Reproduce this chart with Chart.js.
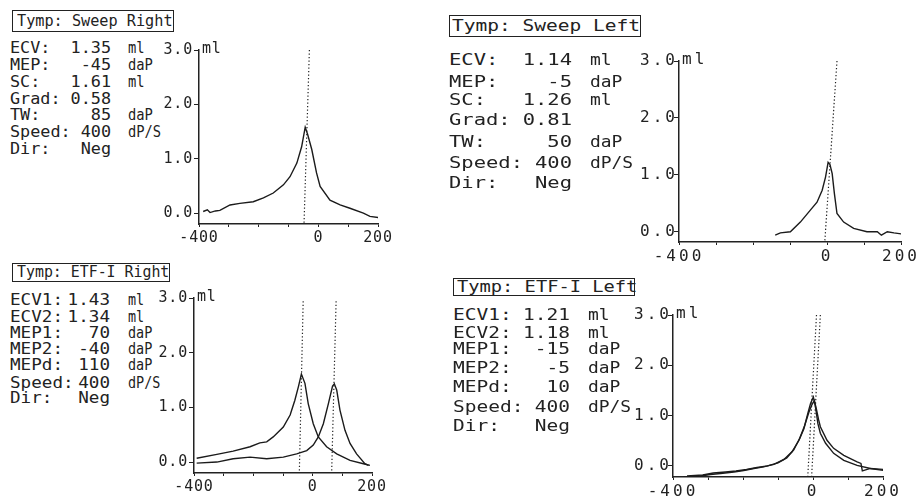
<!DOCTYPE html>
<html>
<head>
<meta charset="utf-8">
<script src="https://cdn.jsdelivr.net/npm/chart.js@4.4.1/dist/chart.umd.min.js"></script>
<style>
  html, body { margin: 0; padding: 0; background: #fff; }
  body { width: 921px; height: 502px; position: relative; overflow: hidden;
         font-family: "DejaVu Sans Mono", monospace; color: #222; }
  .t { position: absolute; font-size: 16px; line-height: 16px; white-space: pre; }
  .box { position: absolute; border: 1.3px solid #222; box-sizing: border-box; }
  canvas { position: absolute; }
</style>
</head>
<body>
<script>
// ---- ejes comunes ----
var yTicks = [0, 1, 2, 3];
var xLabelled = [-400, 0, 200];

// ---- Tymp: Sweep Right ----
var tlNames  = ['ECV:', 'MEP:', 'SC:', 'Grad:', 'TW:', 'Speed:', 'Dir:'];
var tlValues = ['1.35', '-45', '1.61', '0.58', '85', '400', 'Neg'];
var tlUnits  = ['ml', 'daP', 'ml', '', 'daP', 'dP/S', ''];
var tlPressure = [-386, -372, -363, -345, -330, -296, -263, -218, -184, -151, -117, -95, -72, -56, -44, -36, -22, -6, 6, 39, 73, 106, 151, 173, 201];
var tlVolume   = [0.03, 0.06, 0.01, 0.04, 0.05, 0.15, 0.18, 0.21, 0.28, 0.37, 0.52, 0.67, 0.92, 1.22, 1.58, 1.45, 1.17, 0.74, 0.49, 0.24, 0.15, 0.09, 0.0, -0.06, -0.08];
var tlMarkTop = [-30];
var tlMarkBottom = [-48];

// ---- Tymp: Sweep Left ----
var trNames  = ['ECV:', 'MEP:', 'SC:', 'Grad:', 'TW:', 'Speed:', 'Dir:'];
var trValues = ['1.14', '-5', '1.26', '0.81', '50', '400', 'Neg'];
var trUnits  = ['ml', 'daP', 'ml', '', 'daP', 'dP/S', ''];
var trPressure = [-140, -126, -99, -72, -45, -27, -13, -4, 3, 8, 14, 20, 27, 45, 72, 108, 136, 147, 163, 181, 203];
var trVolume   = [-0.06, -0.02, 0.0, 0.17, 0.38, 0.52, 0.73, 0.96, 1.22, 1.18, 1.02, 0.67, 0.32, 0.17, 0.06, 0.0, 0.0, -0.06, 0.0, -0.02, -0.04];
var trMarkTop = [27];
var trMarkBottom = [-6];

// ---- Tymp: ETF-I Right ----
var blNames  = ['ECV1:', 'ECV2:', 'MEP1:', 'MEP2:', 'MEPd:', 'Speed:', 'Dir:'];
var blValues = ['1.43', '1.34', '70', '-40', '110', '400', 'Neg'];
var blUnits  = ['ml', 'ml', 'daP', 'daP', 'daP', 'dP/S', ''];
var blPressure1 = [-391, -323, -268, -211, -178, -155, -133, -99, -76, -60, -48, -38, -26, -15, 2, 19, 47, 81, 126, 171, 193];
var blVolume1   = [0.07, 0.14, 0.2, 0.28, 0.35, 0.37, 0.46, 0.64, 0.86, 1.13, 1.38, 1.61, 1.44, 1.07, 0.7, 0.46, 0.28, 0.15, 0.03, -0.03, -0.06];
var blPressure2 = [-391, -323, -268, -211, -155, -99, -54, -20, 2, 19, 36, 53, 67, 73, 81, 92, 109, 126, 148, 176, 188];
var blVolume2   = [-0.02, 0.0, 0.06, 0.09, 0.06, 0.09, 0.15, 0.21, 0.31, 0.46, 0.7, 1.07, 1.39, 1.43, 1.32, 0.95, 0.58, 0.34, 0.15, -0.03, -0.06];
var blMarkTop = [-32, 79];
var blMarkBottom = [-45, 64];

// ---- Tymp: ETF-I Left ----
var brNames  = ['ECV1:', 'ECV2:', 'MEP1:', 'MEP2:', 'MEPd:', 'Speed:', 'Dir:'];
var brValues = ['1.21', '1.18', '-15', '-5', '10', '400', 'Neg'];
var brUnits  = ['ml', 'ml', 'daP', 'daP', 'daP', 'dP/S', ''];
var brPressure1 = [-369, -321, -293, -264, -226, -198, -169, -141, -112, -83, -60, -40, -26, -15, -7, 1, 7, 14, 21, 36, 59, 88, 126, 164, 202];
var brVolume1   = [-0.22, -0.2, -0.17, -0.15, -0.12, -0.09, -0.05, -0.02, 0.03, 0.13, 0.28, 0.51, 0.74, 1.04, 1.24, 1.37, 1.18, 0.84, 0.65, 0.45, 0.25, 0.11, 0.01, -0.05, -0.09];
var brPressure2 = [-360, -315, -285, -250, -220, -190, -160, -130, -100, -75, -55, -38, -24, -12, -3, 4, 10, 16, 21, 40, 59, 88, 126, 137, 141, 164, 202];
var brVolume2   = [-0.2, -0.18, -0.14, -0.12, -0.1, -0.07, -0.03, 0.0, 0.06, 0.16, 0.32, 0.55, 0.8, 1.06, 1.22, 1.3, 1.12, 0.92, 0.78, 0.51, 0.35, 0.21, 0.08, 0.05, -0.1, -0.05, -0.07];
var brMarkTop = [10, 21];
var brMarkBottom = [-15, -4];

/*******************************************************/
// posiciones de cada panel (px en la hoja)
var paneles = [
  { title: 'Tymp: Sweep Right', box: [11.7, 9.5, 162.6, 22], titleX: 17, titleScale: 0.95,
    names: tlNames, values: tlValues, units: tlUnits,
    rowY: [48.3, 65, 81.7, 99.3, 115, 131.7, 149], labelX: 10, valueRight: 111, unitX: 128.3, tableScale: 1.05, unitScale: 0.86,
    area: { left: 199, right: 378, top: 50, bottom: 224 }, ymin: -0.2, fontSize: 15, ls: 0.8, yPad: 1,
    series: [[tlPressure, tlVolume]], marks: [tlMarkTop, tlMarkBottom], markTopY: 3.0 },
  { title: 'Tymp: Sweep Left', box: [449.3, 15, 192, 22], titleX: 451.7, titleScale: 1.22,
    names: trNames, values: trValues, units: trUnits,
    rowY: [60, 81.7, 100, 120, 141.7, 163.3, 182.7], labelX: 449.3, valueRight: 572, unitX: 590, tableScale: 1.28, unitScale: 1.12,
    area: { left: 679, right: 900.5, top: 60.6, bottom: 241.7 }, ymin: -0.18, fontSize: 16, ls: 3, yPad: -4,
    series: [[trPressure, trVolume]], marks: [trMarkTop, trMarkBottom], markTopY: 3.0 },
  { title: 'Tymp: ETF-I Right', box: [11.7, 262.5, 158.5, 19], titleX: 16.7, titleScale: 0.93,
    names: blNames, values: blValues, units: blUnits,
    rowY: [300, 316.7, 333.3, 349.3, 365, 383.3, 398.3], labelX: 10, valueRight: 110, unitX: 128.3, tableScale: 1.1, unitScale: 0.84,
    area: { left: 194, right: 372, top: 298.2, bottom: 472.7 }, ymin: -0.2, fontSize: 15, ls: 0.8, yPad: 1,
    series: [[blPressure1, blVolume1], [blPressure2, blVolume2]], marks: [blMarkTop, blMarkBottom], markTopY: 2.94 },
  { title: 'Tymp: ETF-I Left', box: [452.7, 278.3, 182.3, 18], titleX: 457.3, titleScale: 1.17,
    names: brNames, values: brValues, units: brUnits,
    rowY: [315, 333.3, 349.3, 368.3, 386.7, 406.7, 425.7], labelX: 453.3, valueRight: 570, unitX: 588.3, tableScale: 1.22, unitScale: 1.12,
    area: { left: 672.5, right: 882.5, top: 315.1, bottom: 476.7 }, ymin: -0.22, fontSize: 16, ls: 3, yPad: -4,
    series: [[brPressure1, brVolume1], [brPressure2, brVolume2]], marks: [brMarkTop, brMarkBottom], markTopY: 3.0 }
];

function texto(str, left, centro, escala, derecha) {
  var d = document.createElement('div');
  d.className = 't';
  d.textContent = str;
  d.style.top = (centro - 8) + 'px';
  if (derecha) {
    d.style.left = (left - 200) + 'px';
    d.style.width = '200px';
    d.style.textAlign = 'right';
    d.style.transformOrigin = 'right center';
  } else {
    d.style.left = left + 'px';
    d.style.transformOrigin = 'left center';
  }
  d.style.transform = 'scaleX(' + escala + ')';
  document.body.appendChild(d);
}

// letra espaciada en el canvas (los paneles derechos estan estirados)
var espaciado = {
  id: 'espaciado',
  beforeDraw: function (chart, args, opts) {
    chart.ctx.letterSpacing = (opts.ls || 0) + 'px';
  },
  afterDraw: function (chart, args, opts) {
    var ctx = chart.ctx;
    var y = chart.scales.y.getPixelForValue(3);
    ctx.save();
    ctx.fillStyle = '#222';
    ctx.font = opts.fontSize + 'px "DejaVu Sans Mono"';
    ctx.textBaseline = 'middle';
    ctx.textAlign = 'left';
    ctx.fillText('ml', chart.chartArea.left + 3, y - 1);
    ctx.restore();
  }
};

function dibujar_Panel(p, n) {
  // recuadro del titulo
  var b = document.createElement('div');
  b.className = 'box';
  b.style.left = p.box[0] + 'px';
  b.style.top = p.box[1] + 'px';
  b.style.width = p.box[2] + 'px';
  b.style.height = p.box[3] + 'px';
  document.body.appendChild(b);
  texto(p.title, p.titleX, p.box[1] + p.box[3] / 2, p.titleScale, false);

  // tabla
  for (var i = 0; i < p.names.length; i++) {
    texto(p.names[i], p.labelX, p.rowY[i], p.tableScale, false);
    texto(p.values[i], p.valueRight, p.rowY[i], p.tableScale, true);
    if (p.units[i]) texto(p.units[i], p.unitX, p.rowY[i], p.unitScale, false);
  }

  // grafico
  var yW = 60, xH = 32, pt = 14, pr = 20;
  var a = p.area;
  var cv = document.createElement('canvas');
  var w = Math.round(a.right - a.left + yW + pr);
  var h = Math.round(a.bottom - a.top + pt + xH);
  cv.width = w; cv.height = h;
  cv.style.width = w + 'px'; cv.style.height = h + 'px';
  cv.style.left = Math.round(a.left - yW) + 'px';
  cv.style.top = Math.round(a.top - pt) + 'px';
  document.body.appendChild(cv);

  var datasets = p.series.map(function (s) {
    return {
      data: s[0].map(function (x, k) { return { x: x, y: s[1][k] }; }),
      borderColor: '#1b1b1b', borderWidth: 1.4, pointRadius: 0, tension: 0
    };
  });
  p.marks[0].forEach(function (xt, k) {
    datasets.push({
      data: [{ x: xt, y: p.markTopY }, { x: p.marks[1][k], y: p.ymin }],
      borderColor: '#222', borderWidth: 1.2, borderDash: [1.3, 2.2], pointRadius: 0
    });
  });

  var fuente = { family: '"DejaVu Sans Mono", monospace', size: p.fontSize };
  new Chart(cv, {
    type: 'line',
    data: { datasets: datasets },
    options: {
      responsive: false,
      animation: false,
      layout: { padding: { top: pt, right: pr, left: 0, bottom: 0 } },
      plugins: { legend: { display: false }, tooltip: { enabled: false },
                 espaciado: { ls: p.ls, fontSize: p.fontSize } },
      scales: {
        x: {
          type: 'linear', min: -400, max: 200,
          afterFit: function (s) { s.height = xH; },
          ticks: { stepSize: 100, autoSkip: false, maxRotation: 0, padding: 2, color: '#222', font: fuente,
                   callback: function (v) { return xLabelled.indexOf(v) >= 0 ? String(v) : ''; } },
          grid: { drawOnChartArea: false, drawTicks: true, tickLength: 3, color: '#222', lineWidth: 1 },
          border: { color: '#222', width: 1.5 }
        },
        y: {
          type: 'linear', min: p.ymin, max: 3,
          afterFit: function (s) { s.width = yW; },
          afterBuildTicks: function (s) { s.ticks = yTicks.map(function (v) { return { value: v }; }); },
          ticks: { padding: p.yPad, color: '#222', font: fuente,
                   callback: function (v) { return Number(v).toFixed(1); } },
          grid: { drawOnChartArea: false, drawTicks: true, tickLength: 5, color: '#222', lineWidth: 1 },
          border: { color: '#222', width: 1.5 }
        }
      }
    },
    plugins: [espaciado]
  });
}

paneles.forEach(dibujar_Panel);
</script>
</body>
</html>
